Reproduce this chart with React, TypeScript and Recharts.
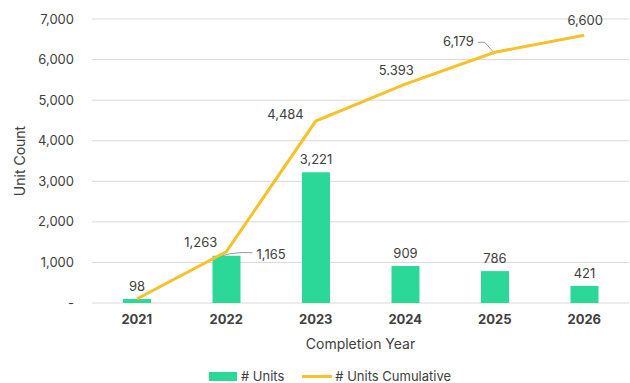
import React from "react"
import { ComposedChart, Bar, Line, XAxis, YAxis, CartesianGrid, LabelList } from "recharts"

const years = ["2021", "2022", "2023", "2024", "2025", "2026"]
const units = [98, 1165, 3221, 909, 786, 421]
const cumulative = [98, 1263, 4484, 5393, 6179, 6600]
const unitLabels = ["98", "1,165", "3,221", "909", "786", "421"]
const cumulativeLabels = ["", "1,263", "4,484", "5.393", "6,179", "6,600"]
const yTicks = [0, 1000, 2000, 3000, 4000, 5000, 6000, 7000]

const GREEN = "#2bd898"
const YELLOW = "#f6c12a"
const TEXT = "#404040"
const FONT = "Inter, 'Noto Sans', sans-serif"

const data = years.map((year, i) => ({ year, units: units[i], cumulative: cumulative[i] }))

const fmtTick = (v: number) => (v === 0 ? "-" : v.toLocaleString("en-US"))

// label placement around each point (dx, dy, anchor, leader line)
const barLabelPos = [
  { dx: 0, dy: -8, anchor: "middle" },
  { dx: 30, dy: 3, anchor: "start", leader: true },
  { dx: 0, dy: -8, anchor: "middle" },
  { dx: 0, dy: -8, anchor: "middle" },
  { dx: 0, dy: -8, anchor: "middle" },
  { dx: 0, dy: -8, anchor: "middle" },
]
const lineLabelPos = [
  { dx: 0, dy: 0, anchor: "middle" },
  { dx: -9, dy: -5, anchor: "end" },
  { dx: -12, dy: -2, anchor: "end" },
  { dx: -9, dy: -9, anchor: "middle" },
  { dx: -21, dy: -6, anchor: "end", leader: true },
  { dx: 1, dy: -10, anchor: "middle" },
]

const BarLabel = (props: any) => {
  const { x, y, width, index } = props
  const p = barLabelPos[index]
  const cx = x + width / 2
  return (
    <g>
      {p.leader && (
        <path d={`M${cx - 4},${y} Q${cx + 8},${y - 4} ${cx + 26},${y - 3}`} stroke="#999" fill="none" strokeWidth={1} />
      )}
      <text x={cx + p.dx} y={y + p.dy} textAnchor={p.anchor} fill={TEXT} fontSize={13} fontFamily={FONT}>
        {unitLabels[index]}
      </text>
    </g>
  )
}

const LineLabel = (props: any) => {
  const { x, y, index } = props
  const p = lineLabelPos[index]
  if (!cumulativeLabels[index]) return null
  return (
    <g>
      {p.leader && <path d={`M${x - 17},${y - 10} L${x - 10},${y - 10} L${x - 2},${y - 1}`} stroke="#999" fill="none" strokeWidth={1} />}
      <text x={x + p.dx} y={y + p.dy} textAnchor={p.anchor} fill={TEXT} fontSize={13} fontFamily={FONT}>
        {cumulativeLabels[index]}
      </text>
    </g>
  )
}

const LegendRow = () => (
  <div
    style={{
      position: "absolute",
      top: 368,
      left: 0,
      width: 630,
      display: "flex",
      justifyContent: "center",
      alignItems: "center",
      fontFamily: FONT,
      fontSize: 13,
      color: TEXT,
      paddingLeft: 30,
      boxSizing: "border-box",
    }}
  >
    <span style={{ display: "inline-block", width: 28, height: 9, background: GREEN, marginRight: 4 }} />
    <span style={{ marginRight: 18 }}># Units</span>
    <span style={{ display: "inline-block", width: 30, height: 3, background: YELLOW, marginRight: 3 }} />
    <span># Units Cumulative</span>
  </div>
)

export default function App() {
  return (
    <div style={{ position: "absolute", top: 0, left: 0, width: 630, height: 383, background: "#fff", overflow: "hidden" }}>
      <ComposedChart width={630} height={383} data={data} margin={{ top: 19, right: 1, left: 20, bottom: 50 }}>
        <CartesianGrid vertical={false} stroke="#d9d9d9" />
        <XAxis
          dataKey="year"
          height={30}
          axisLine={false}
          tickLine={false}
          tickSize={0}
          tickMargin={12}
          tick={{ fill: TEXT, fontSize: 13, fontWeight: 700, fontFamily: FONT }}
          label={{ value: "Completion Year", position: "insideBottom", offset: -16, fill: TEXT, fontSize: 14, fontFamily: FONT }}
        />
        <YAxis
          width={72}
          domain={[0, 7000]}
          ticks={yTicks}
          tickFormatter={fmtTick}
          axisLine={false}
          tickLine={false}
          tickSize={0}
          tickMargin={18}
          tick={{ fill: TEXT, fontSize: 13, fontFamily: FONT }}
          label={{ value: "Unit Count", angle: -90, position: "insideLeft", offset: 0, fill: TEXT, fontSize: 14, fontFamily: FONT, style: { textAnchor: "middle" } }}
        />
        <Bar dataKey="units" fill={GREEN} barSize={28} isAnimationActive={false}>
          <LabelList dataKey="units" content={BarLabel} />
        </Bar>
        <Line type="linear" dataKey="cumulative" stroke={YELLOW} strokeWidth={3} dot={false} isAnimationActive={false}>
          <LabelList dataKey="cumulative" content={LineLabel} />
        </Line>
      </ComposedChart>
      <LegendRow />
    </div>
  )
}
